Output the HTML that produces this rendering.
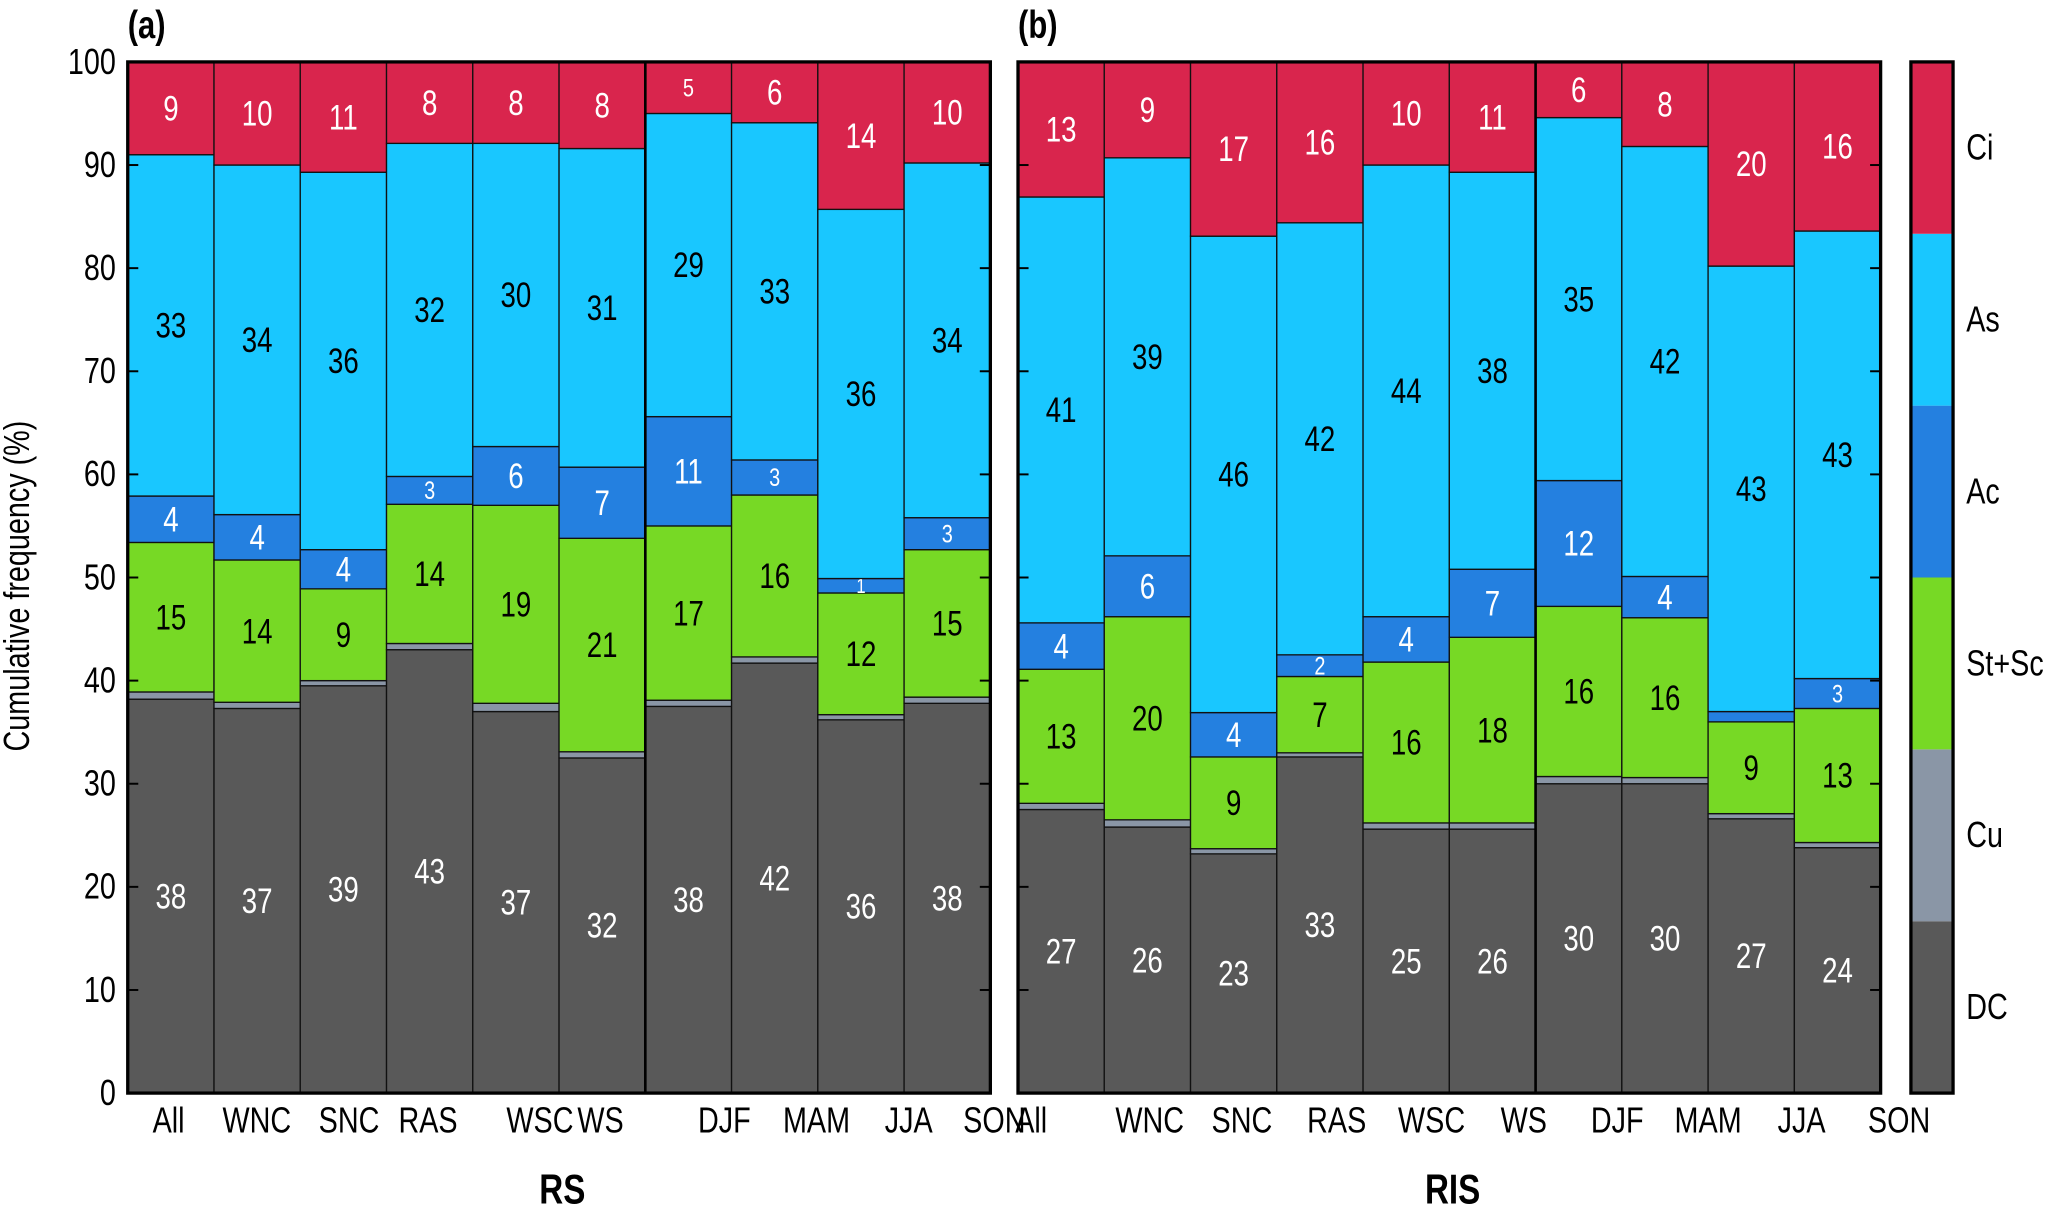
<!DOCTYPE html>
<html><head><meta charset="utf-8">
<style>
html,body{margin:0;padding:0;background:#fff;}
svg{display:block;font-family:"Liberation Sans",sans-serif;}
</style></head>
<body>
<svg id="chart" width="2065" height="1209" viewBox="0 0 1568 918" xmlns="http://www.w3.org/2000/svg"></svg>
<script>
const categories = ["All","WNC","SNC","RAS","WSC","WS","DJF","MAM","JJA","SON"];
const cloudTypes = ["DC","Cu","St+Sc","Ac","As","Ci"];
const yTicks = [0,10,20,30,40,50,60,70,80,90,100];
// panel (a) RS: segment values per bar [DC, Cu, St+Sc, Ac, As, Ci]
const rsDC   = [38.2,37.3,39.5,43.0,37.0,32.5,37.5,41.7,36.2,37.8];
const rsCu   = [0.7,0.6,0.5,0.6,0.8,0.6,0.6,0.6,0.5,0.6];
const rsSt   = [14.5,13.8,8.9,13.5,19.2,20.7,16.9,15.7,11.8,14.3];
const rsAc   = [4.5,4.4,3.8,2.7,5.7,6.9,10.6,3.4,1.4,3.1];
const rsAs   = [33.1,33.9,36.6,32.3,29.4,30.9,29.4,32.7,35.8,34.4];
const rsCi   = [9.0,10.0,10.7,7.9,7.9,8.4,5.0,5.9,14.3,9.8];
// panel (b) RIS
const risDC  = [27.5,25.8,23.2,32.6,25.6,25.6,30.0,30.0,26.6,23.8];
const risCu  = [0.6,0.7,0.5,0.4,0.6,0.6,0.7,0.6,0.5,0.5];
const risSt  = [13.0,19.7,8.9,7.4,15.6,18.0,16.5,15.5,8.9,13.0];
const risAc  = [4.5,5.9,4.3,2.1,4.4,6.6,12.2,4.0,1.0,2.9];
const risAs  = [41.3,38.6,46.2,41.9,43.8,38.5,35.2,41.7,43.2,43.4];
const risCi  = [13.1,9.3,16.9,15.6,10.0,10.7,5.4,8.2,19.8,16.4];
// printed labels
const rsLblDC = [38,37,39,43,37,32,38,42,36,38];
const rsLblSt = [15,14,9,14,19,21,17,16,12,15];
const rsLblAc = [4,4,4,3,6,7,11,3,1,3];
const rsLblAs = [33,34,36,32,30,31,29,33,36,34];
const rsLblCi = [9,10,11,8,8,8,5,6,14,10];
const risLblDC = [27,26,23,33,25,26,30,30,27,24];
const risLblSt = [13,20,9,7,16,18,16,16,9,13];
const risLblAc = [4,6,4,2,4,7,12,4,null,3];
const risLblAs = [41,39,46,42,44,38,35,42,43,43];
const risLblCi = [13,9,17,16,10,11,6,8,20,16];
const rsLabelX  = [128,195,265,325,410,456,550,620,690,755];
const risLabelX = [783,873,943,1015,1087,1157,1228,1297,1368,1442];

const colors = ["#595959","#8a96a6","#77d925","#2480e0","#19c7ff","#d9254d"];
const textCol = ["#fff",null,"#000","#fff","#000","#fff"];
const NS="http://www.w3.org/2000/svg";
const svg=document.getElementById('chart');
const Y0=830, YH=783;
const SX=0.84;
function yScale(v){return Y0 - v/100*YH;}
function mk(tag,attrs,parent){const e=document.createElementNS(NS,tag);for(const k in attrs)e.setAttribute(k,attrs[k]);(parent||svg).appendChild(e);return e;}
function txt(x,y,s,size,fill,anchor,weight,parent,rot){
  const t=mk('text',{x:0,y:0,'font-size':size,fill:fill,'text-anchor':anchor||'middle','font-weight':weight||'normal',
    transform:'translate('+x+','+y+')'+(rot?' rotate('+rot+')':'')+' scale('+SX+',1.06)'},parent);
  t.textContent=s;return t;}

function panel(left,right,series,labels,xl,title,titleX,letter,name){
  const g=mk('g',{});
  
  
  const bw=(right-left)/categories.length;
  categories.forEach((c,i)=>{
    let cum=0;
    const x=left+i*bw;
    series.forEach((s,k)=>{
      const v=s[i];
      const y1=yScale(cum+v), y0=yScale(cum);
      const r=mk('rect',{x:x,y:y1,width:bw,height:Math.max(0,y0-y1),fill:colors[k],stroke:'#111','stroke-width':1},g);
      
      
      const lab = k===0?labels[4][i]:k===2?labels[0][i]:k===3?labels[1][i]:k===4?labels[2][i]:k===5?labels[3][i]:null;
      if(lab!==null && lab!==undefined){
        let size = (k===3 && lab<=3)||(k===5&&lab<=5)?18:25;
        if(k===3&&lab<=1)size=15;
        const t=txt(x+bw/2,(y0+y1)/2+size*0.37,String(lab),size,textCol[k],'middle','normal',g);
        
        
      }
      cum+=v;
    });
  });
  const dx=left+6*bw;
  mk('line',{x1:dx,y1:47,x2:dx,y2:830,stroke:'#000','stroke-width':2},g);
  mk('rect',{x:left,y:47,width:right-left,height:783,fill:'none',stroke:'#000','stroke-width':2.5},g);
  yTicks.forEach(v=>{
    const y=yScale(v);
    mk('line',{x1:left,y1:y,x2:left+8,y2:y,stroke:'#000','stroke-width':1.5},g);
    mk('line',{x1:right-8,y1:y,x2:right,y2:y,stroke:'#000','stroke-width':1.5},g);
  });
  categories.forEach((c,i)=>{
    const t=txt(xl[i],860,c,26,'#000','middle','normal',g);
    
    
  });
  const tt=txt(titleX,914,title,30,'#000','middle','bold',g);
  
  
  const pl=txt(left,29,letter,28,'#000','start','bold',g);
  
  
}
panel(97,752,[rsDC,rsCu,rsSt,rsAc,rsAs,rsCi],[rsLblSt,rsLblAc,rsLblAs,rsLblCi,rsLblDC],rsLabelX,'RS',427,'(a)','panel-rs');
panel(773,1428,[risDC,risCu,risSt,risAc,risAs,risCi],[risLblSt,risLblAc,risLblAs,risLblCi,risLblDC],risLabelX,'RIS',1103,'(b)','panel-ris');

yTicks.forEach(v=>{
  const t=txt(88,yScale(v)+9,String(v),26,'#000','end');
  
  
});
const yt=txt(22,445,'Cumulative frequency (%)',26,'#000','middle','normal',svg,-90);



const lg=mk('g',{});


const segH=783/cloudTypes.length;
cloudTypes.forEach((c,k)=>{
  const y=830-(k+1)*segH;
  const r=mk('rect',{x:1451,y:y,width:32,height:segH,fill:colors[k]},lg);
  
  
  const t=txt(1493,y+segH/2+9,c,26,'#000','start','normal',lg);
  
  
});
mk('rect',{x:1451,y:47,width:32,height:783,fill:'none',stroke:'#000','stroke-width':2.5},lg);
</script>
</body></html>
